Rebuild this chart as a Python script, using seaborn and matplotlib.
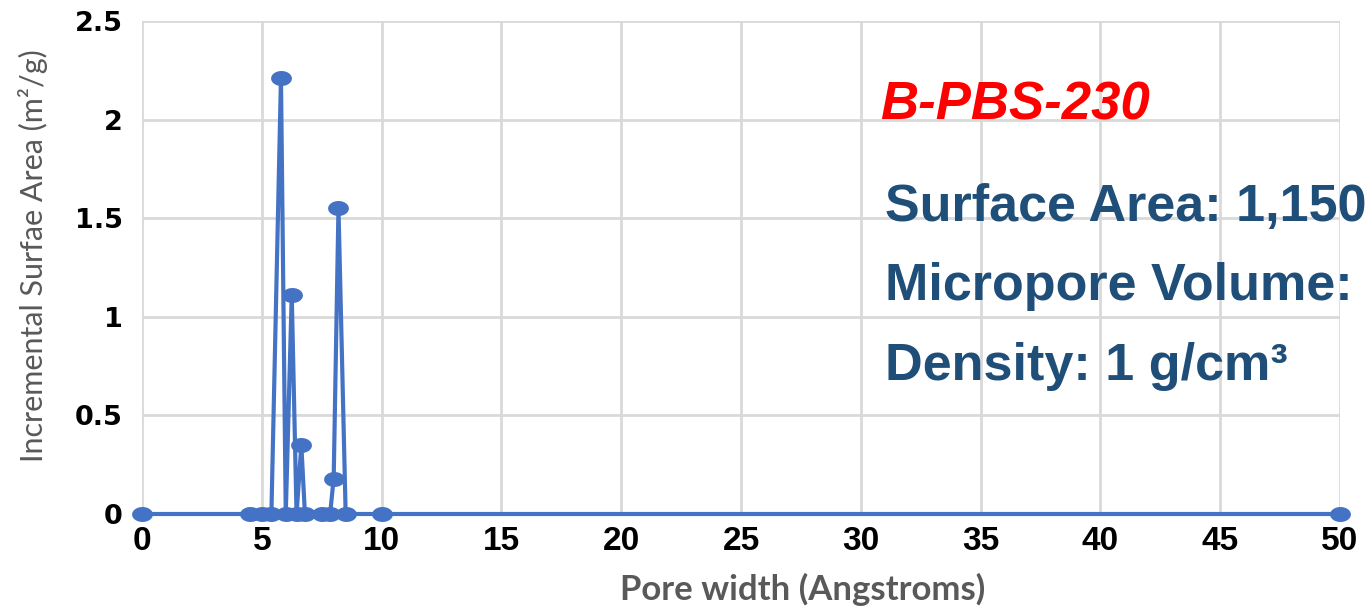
import numpy as np
import pandas as pd
import matplotlib
matplotlib.use("Agg")
import matplotlib.pyplot as plt
import seaborn as sns

# ---- data ----
pore_width = [0, 4.5, 5.0, 5.4, 5.8, 6.0, 6.25, 6.45, 6.65, 6.8, 7.5, 7.85, 8.0, 8.2, 8.5, 10, 50]
surface_area = [0, 0, 0, 0, 2.21, 0, 1.11, 0, 0.35, 0, 0, 0, 0.18, 1.55, 0, 0, 0]
x_ticks = [0, 5, 10, 15, 20, 25, 30, 35, 40, 45, 50]
y_ticks = [0, 0.5, 1, 1.5, 2, 2.5]
y_tick_labels = ["0", "0.5", "1", "1.5", "2", "2.5"]
sample_name = "B-PBS-230"
info_lines = ["Surface Area: 1,150", "Micropore Volume:", "Density: 1 g/cm\u00b3"]

sns.set_theme(style="white")

df = pd.DataFrame({"x": pore_width, "y": surface_area})

W, H = 1369, 606
fig = plt.figure(figsize=(W / 100, H / 100), dpi=100)
ax = fig.add_axes([142 / W, 1 - 514 / H, (1340 - 142) / W, (514 - 21) / H])

# ellipse marker
t = np.linspace(0, 2 * np.pi, 40)
ell = np.column_stack([np.cos(t), 0.72 * np.sin(t)])

sns.lineplot(data=df, x="x", y="y", ax=ax, sort=False, color="#4472C4",
             linewidth=3.0, marker=ell, markersize=15, markeredgewidth=0,
             markerfacecolor="#4472C4", clip_on=False, zorder=5)

ax.set_xlim(0, 50)
ax.set_ylim(0, 2.5)
ax.set_xticks(x_ticks)
ax.set_yticks(y_ticks)
ax.set_yticklabels(y_tick_labels)
ax.grid(True, color="#D9D9D9", linewidth=2.0)
for s in ax.spines.values():
    s.set_visible(False)
ax.tick_params(axis="both", length=0)
ax.tick_params(axis="y", pad=14)
ax.tick_params(axis="x", pad=9)
for lab in ax.get_yticklabels():
    lab.set_fontfamily("DejaVu Sans")
    lab.set_fontweight("bold")
    lab.set_fontsize(19.5)
    lab.set_color("black")
for lab in ax.get_xticklabels():
    lab.set_fontfamily("Liberation Sans")
    lab.set_fontweight("bold")
    lab.set_fontsize(24)
    lab.set_color("black")

ax.set_xlabel("Pore width (Angstroms)", fontsize=25, fontweight="bold",
              color="#595959", family="Lato")
ax.xaxis.set_label_coords((803 - 142) / 1198, -(573 - 514) / 493)
ax.set_ylabel("Incremental Surfae Area (m\u00b2/g)", fontsize=22,
              color="#595959", family="Lato")
ax.yaxis.set_label_coords(-(142 - 48) / 1198, (514 - 256) / 493)

fig.text(880 / W, 1 - 120 / H, sample_name, color="#FF0000", fontsize=38,
         fontweight="bold", fontstyle="italic", family="Liberation Sans",
         va="baseline", ha="left")
for i, line in enumerate(info_lines):
    fig.text(885 / W, 1 - (221 + 79.5 * i) / H, line, color="#1F4E79",
             fontsize=37.5, fontweight="bold", family="Liberation Sans",
             va="baseline", ha="left")

fig.savefig("out.png", dpi=100)
